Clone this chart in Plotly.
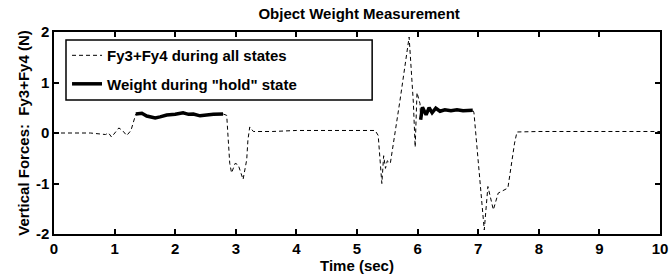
import plotly.graph_objects as go

# Fy3+Fy4 during all states (time in sec, force in N)
t_all = [0.0, 0.3, 0.6, 0.85, 0.9, 0.95, 1.0, 1.07, 1.13, 1.2, 1.27, 1.35,
         1.45, 1.53, 1.67, 1.75, 1.86, 2.0, 2.13, 2.22, 2.30, 2.41, 2.52, 2.63, 2.79,
         2.85, 2.9, 2.93, 2.99, 3.04, 3.12, 3.18, 3.2, 3.23, 3.29, 3.6, 4.0, 4.5, 5.0, 5.3,
         5.35, 5.41, 5.44, 5.47, 5.5, 5.55, 5.71, 5.86, 5.93, 5.96, 5.99, 6.04,
         6.05, 6.08, 6.14, 6.19, 6.24, 6.3, 6.37, 6.45, 6.55, 6.65, 6.75, 6.85, 6.91,
         6.93, 7.08, 7.1, 7.16, 7.25, 7.33, 7.49, 7.6, 7.64, 8.0, 9.0, 10.0]
f_all = [0.0, 0.0, 0.0, -0.03, 0.0, -0.08, 0.0, 0.1, 0.05, -0.05, 0.05, 0.376,
         0.39, 0.337, 0.30, 0.32, 0.356, 0.37, 0.40, 0.37, 0.376, 0.34, 0.36, 0.37, 0.376,
         0.35, -0.6, -0.79, -0.6, -0.63, -0.92, -0.53, -0.14, 0.12, 0.03, 0.03, 0.05, 0.05, 0.06, 0.05,
         -0.05, -1.0, -0.45, -0.7, -0.55, -0.6, 0.65, 1.9, 0.6, -0.28, 0.8, 0.58,
         0.26, 0.51, 0.36, 0.5, 0.4, 0.49, 0.43, 0.46, 0.44, 0.46, 0.44, 0.45, 0.45,
         0.4, -1.72, -1.92, -1.06, -1.52, -1.19, -1.09, -0.2, 0.02, 0.03, 0.03, 0.03]

# Weight during "hold" state: two hold intervals
t_hold1 = [1.35, 1.45, 1.53, 1.67, 1.75, 1.86, 2.0, 2.13, 2.22, 2.30, 2.41, 2.52, 2.63, 2.79]
w_hold1 = [0.376, 0.39, 0.337, 0.30, 0.32, 0.356, 0.37, 0.40, 0.37, 0.376, 0.34, 0.36, 0.37, 0.376]
t_hold2 = [6.05, 6.08, 6.14, 6.19, 6.24, 6.3, 6.37, 6.45, 6.55, 6.65, 6.75, 6.85, 6.91]
w_hold2 = [0.26, 0.51, 0.36, 0.5, 0.4, 0.49, 0.43, 0.46, 0.44, 0.46, 0.44, 0.45, 0.45]

x_ticks = [0, 1, 2, 3, 4, 5, 6, 7, 8, 9, 10]
y_ticks = [-2, -1, 0, 1, 2]

FONT = "Liberation Sans, Arial, sans-serif"
BOLD15 = dict(family=FONT, size=15, color="black", weight="bold")

fig = go.Figure()
fig.add_trace(go.Scatter(
    x=t_all, y=f_all, mode="lines", name="Fy3+Fy4 during all states",
    legendgroup="a",
    line=dict(color="black", width=1, dash="4px,3px")))
fig.add_trace(go.Scatter(
    x=t_hold1 + [None] + t_hold2, y=w_hold1 + [None] + w_hold2, mode="lines",
    name='Weight during "hold" state', legendgroup="b",
    line=dict(color="black", width=3.5)))

axis_common = dict(
    showline=True, linecolor="black", linewidth=1.5, mirror="ticks",
    ticks="inside", ticklen=5, tickwidth=1.5, tickcolor="black",
    showgrid=False, zeroline=False, automargin=False,
    tickfont=BOLD15,
)

fig.update_layout(
    width=670, height=279,
    margin=dict(l=54, r=10, t=32, b=45),
    paper_bgcolor="white", plot_bgcolor="white",
    title=dict(text="Object Weight Measurement", x=0.536, xanchor="center",
               y=0.951, yanchor="middle", font=BOLD15),
    xaxis=dict(range=[0, 10], tickvals=x_ticks, ticktext=[str(v) for v in x_ticks],
               title=dict(text="Time (sec)", standoff=2, font=BOLD15),
               **axis_common),
    yaxis=dict(range=[-2, 2], tickvals=y_ticks, ticktext=[str(v) for v in y_ticks],
               title=dict(text="Vertical Forces:\u00a0 Fy3+Fy4 (N)", standoff=3, font=BOLD15),
               **axis_common),
    showlegend=True,
    legend=dict(x=0.0215, y=0.965, xanchor="left", yanchor="top",
                bgcolor="rgba(0,0,0,0)", borderwidth=0, tracegroupgap=6,
                font=BOLD15),
    shapes=[dict(type="rect", xref="paper", yref="paper",
                 x0=0.0198, x1=0.525, y0=0.663, y1=0.960,
                 line=dict(color="black", width=1.5), fillcolor="rgba(0,0,0,0)",
                 layer="below")],
)

# remove the browser's default 8px body margin so the figure fills the window
fig.write_html("out.html",
               config={"displayModeBar": False},
               post_script="document.body.style.margin='0';document.body.style.overflow='hidden';")
